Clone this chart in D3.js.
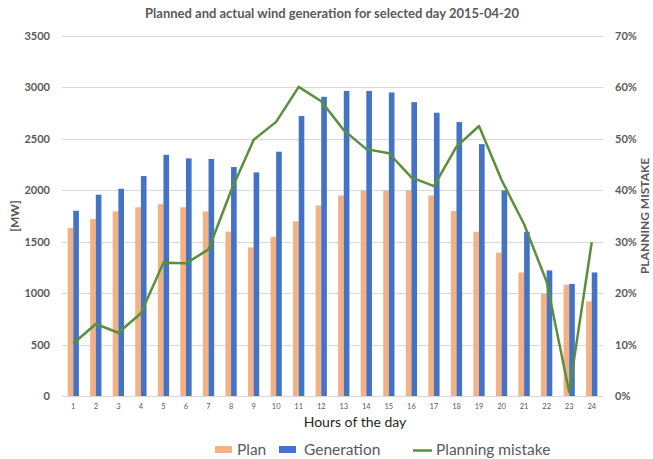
<!DOCTYPE html>
<html>
<head>
<meta charset="utf-8">
<script src="https://cdn.jsdelivr.net/npm/d3@7"></script>
<style>
  body { margin: 0; background: #fff; }
  text { font-family: Lato, "Open Sans", sans-serif; }
</style>
</head>
<body>
<div id="chart"></div>
<script>
// Data
let hours = ['1','2','3','4','5','6','7','8','9','10','11','12','13','14','15','16','17','18','19','20','21','22','23','24'];
let plan = [1633,1720,1795,1835,1865,1835,1795,1598,1445,1548,1698,1852,1950,1999,1999,1999,1950,1798,1597,1394,1201,995,1082,920];
let generation = [1801,1957,2015,2138,2345,2310,2305,2226,2174,2375,2722,2909,2966,2966,2951,2857,2754,2663,2449,1999,1596,1221,1089,1201];
let mistake = [0.102,0.140,0.123,0.161,0.259,0.258,0.285,0.399,0.498,0.533,0.601,0.573,0.517,0.480,0.472,0.425,0.408,0.485,0.525,0.420,0.334,0.222,0.008,0.299];
let leftTicks = [0,500,1000,1500,2000,2500,3000,3500];
let rightTicks = [0,0.1,0.2,0.3,0.4,0.5,0.6,0.7];

let width = 653, height = 459;
let margin = {top: 36, right: 50, bottom: 63, left: 62};
let plotW = width - margin.left - margin.right;
let plotH = height - margin.top - margin.bottom;

let colorPlan = '#f4b183';
let colorGen = '#4472c4';
let colorLine = '#5b8f3c';
let textColor = '#595959';

let svg = d3.select('#chart')
    .append('svg')
    .attr('width', width)
    .attr('height', height);

let g = svg.append('g')
    .attr('transform', 'translate(' + margin.left + ',' + margin.top + ')');

// Scales
let x = d3.scaleBand()
    .domain(hours)
    .range([0, plotW])
    .paddingInner(0.5)
    .paddingOuter(0.25);

let xSub = d3.scaleBand()
    .domain(['plan', 'gen'])
    .range([0, x.bandwidth()]);

let y = d3.scaleLinear()
    .domain([0, 3500])
    .range([plotH, 0]);

let y2 = d3.scaleLinear()
    .domain([0, 0.7])
    .range([plotH, 0]);

// Gridlines
g.append('g')
    .selectAll('line')
    .data(leftTicks)
    .enter()
    .append('line')
    .attr('x1', 0)
    .attr('x2', plotW)
    .attr('y1', d => Math.round(y(d)) + 0.5)
    .attr('y2', d => Math.round(y(d)) + 0.5)
    .attr('stroke', '#d9d9d9')
    .attr('stroke-width', 1);

// Left axis
let yAxis = g.append('g')
    .attr('transform', 'translate(-12,0)')
    .call(d3.axisLeft(y).tickValues(leftTicks).tickFormat(d3.format('d')).tickSize(0).tickPadding(0));
yAxis.select('.domain').remove();
yAxis.selectAll('text')
    .attr('fill', textColor)
    .style('font-size', '11px')
    .style('font-weight', 'bold');

// Right axis
let y2Axis = g.append('g')
    .attr('transform', 'translate(' + (plotW + 12) + ',0)')
    .call(d3.axisRight(y2).tickValues(rightTicks).tickFormat(d3.format('.0%')).tickSize(0).tickPadding(0));
y2Axis.select('.domain').remove();
y2Axis.selectAll('text')
    .attr('fill', textColor)
    .style('font-size', '11px')
    .style('font-weight', 'bold');

// X axis
let xAxis = g.append('g')
    .attr('transform', 'translate(0,' + plotH + ')')
    .call(d3.axisBottom(x).tickSize(0).tickPadding(8));
xAxis.select('.domain').remove();
xAxis.selectAll('text')
    .attr('fill', textColor)
    .style('font-size', '7.5px');

// Bars
let groups = g.selectAll('.hour')
    .data(hours)
    .enter()
    .append('g')
    .attr('class', 'hour')
    .attr('transform', d => 'translate(' + x(d) + ',0)');

groups.append('rect')
    .attr('x', xSub('plan'))
    .attr('width', xSub.bandwidth())
    .attr('y', (d, i) => y(plan[i]))
    .attr('height', (d, i) => plotH - y(plan[i]))
    .attr('fill', colorPlan);

groups.append('rect')
    .attr('x', xSub('gen'))
    .attr('width', xSub.bandwidth())
    .attr('y', (d, i) => y(generation[i]))
    .attr('height', (d, i) => plotH - y(generation[i]))
    .attr('fill', colorGen);

// Planning mistake line
let line = d3.line()
    .x((d, i) => x(hours[i]) + x.bandwidth() / 2)
    .y(d => y2(d));

g.append('path')
    .datum(mistake)
    .attr('d', line)
    .attr('fill', 'none')
    .attr('stroke', colorLine)
    .attr('stroke-width', 2.5)
    .attr('stroke-linejoin', 'round');

// Title
svg.append('text')
    .attr('x', 332)
    .attr('y', 18)
    .attr('text-anchor', 'middle')
    .attr('fill', textColor)
    .style('font-size', '13px')
    .style('font-weight', 'bold')
    .text('Planned and actual wind generation for selected day 2015-04-20');

// Axis titles
svg.append('text')
    .attr('transform', 'translate(19,' + (margin.top + plotH / 2) + ') rotate(-90)')
    .attr('text-anchor', 'middle')
    .attr('fill', textColor)
    .style('font-size', '12px')
    .style('font-weight', 'bold')
    .text('[MW]');

svg.append('text')
    .attr('transform', 'translate(649,' + (margin.top + plotH / 2) + ') rotate(-90)')
    .attr('text-anchor', 'middle')
    .attr('fill', textColor)
    .style('font-size', '12px')
    .style('font-weight', 'bold')
    .text('PLANNING MISTAKE');

svg.append('text')
    .attr('x', 355)
    .attr('y', 427)
    .attr('text-anchor', 'middle')
    .attr('fill', '#262626')
    .style('font-size', '14px')
    .text('Hours of the day');

// Legend
let legend = svg.append('g').attr('class', 'legend');

legend.append('rect')
    .attr('x', 215).attr('y', 446).attr('width', 17).attr('height', 7)
    .attr('fill', colorPlan);
legend.append('text')
    .attr('x', 237).attr('y', 455)
    .attr('fill', textColor).style('font-size', '15.5px')
    .text('Plan');

legend.append('rect')
    .attr('x', 279).attr('y', 446).attr('width', 17).attr('height', 7)
    .attr('fill', colorGen);
legend.append('text')
    .attr('x', 304).attr('y', 455)
    .attr('fill', textColor).style('font-size', '15.5px')
    .text('Generation');

legend.append('line')
    .attr('x1', 413).attr('x2', 432).attr('y1', 450.5).attr('y2', 450.5)
    .attr('stroke', colorLine).attr('stroke-width', 2.5);
legend.append('text')
    .attr('x', 436).attr('y', 455)
    .attr('fill', textColor).style('font-size', '15.5px')
    .text('Planning mistake');
</script>
</body>
</html>
